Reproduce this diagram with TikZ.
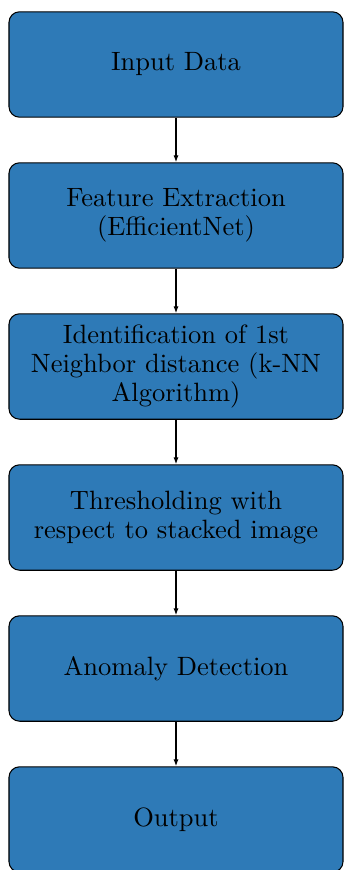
\documentclass[tikz,border=0pt]{standalone}
\usetikzlibrary{arrows.meta}
\definecolor{boxblue}{RGB}{46,122,183}
\begin{document}
\begin{tikzpicture}[x=0.3775pt,y=-0.3775pt,
  flowbox/.style={draw=black,fill=boxblue,rounded corners=4pt,line width=0.4pt,
    minimum width=126.1pt,minimum height=39.8pt,align=center,inner sep=0pt,
    font=\fontsize{10}{11.1}\selectfont},
  flowarrow/.style={-{Latex[length=2.6pt,width=1.9pt]},line width=0.4pt}]
\clip (0,0) rectangle (344,870);
\useasboundingbox (0,0) rectangle (344,870);
\node[flowbox] (b1) at (176,64.5) {Input Data};
\node[flowbox] (b2) at (176,215.5) {Feature Extraction\\(EfficientNet)};
\node[flowbox] (b3) at (176,366.5) {Identification of 1st\\Neighbor distance (k-NN\\Algorithm)};
\node[flowbox] (b4) at (176,517.5) {Thresholding with\\respect to stacked image};
\node[flowbox] (b5) at (176,668.5) {Anomaly Detection};
\node[flowbox] (b6) at (176,819.5) {Output};
\draw[flowarrow] (b1) -- (b2);
\draw[flowarrow] (b2) -- (b3);
\draw[flowarrow] (b3) -- (b4);
\draw[flowarrow] (b4) -- (b5);
\draw[flowarrow] (b5) -- (b6);
\end{tikzpicture}
\end{document}
